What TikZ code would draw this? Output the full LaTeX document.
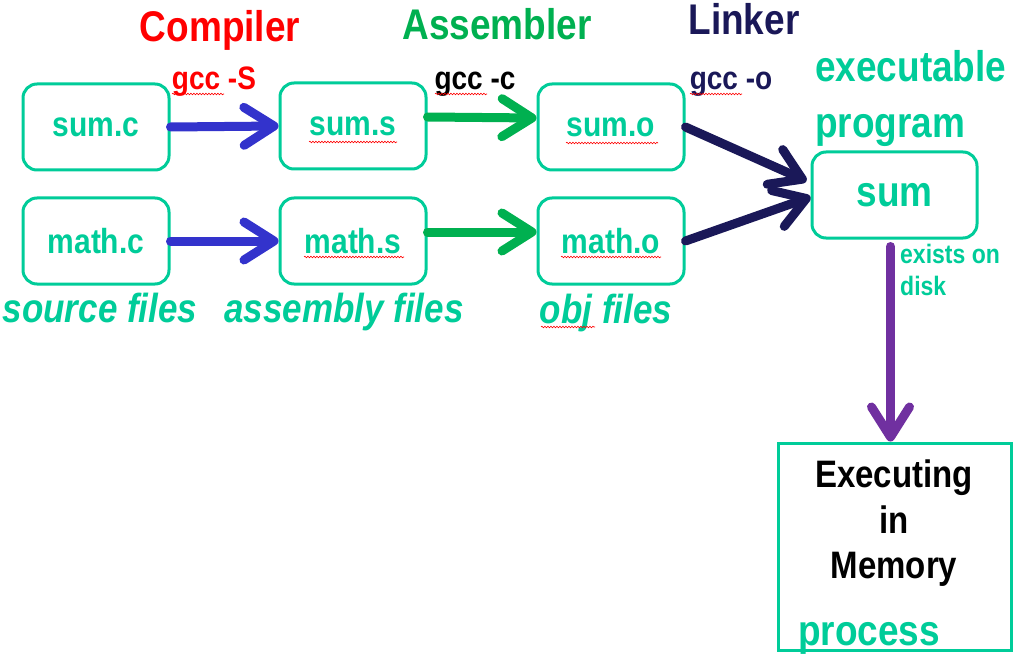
\documentclass[tikz,border=0pt]{standalone}
\usepackage{fontspec}
\usepackage{graphicx}
\setmainfont{Liberation Sans}
\usetikzlibrary{arrows.meta,decorations.pathmorphing}
\definecolor{tealc}{HTML}{00CC99}
\definecolor{greenc}{HTML}{00B050}
\definecolor{bluec}{HTML}{3333CC}
\definecolor{navyc}{HTML}{1A1858}
\definecolor{purplec}{HTML}{7030A0}
\definecolor{redc}{HTML}{FF0000}
\newcommand{\fs}[1]{\fontsize{#1}{#1}\selectfont}
\newcommand{\tall}[1]{\scalebox{1}[1.16]{#1}}
\begin{document}
\begin{tikzpicture}[x=1pt,y=-1pt,
  filebox/.style={draw=tealc, line width=3pt, rounded corners=14pt, minimum width=146pt, minimum height=86pt, text=tealc, font=\bfseries\fs{30}, inner sep=0pt},
  arr/.style={line width=9pt, line cap=round, -{Straight Barb[length=30pt 0 0, width=38pt 0 0, round]}},
  title/.style={font=\bfseries\fs{37}, anchor=base, inner sep=0pt},
  cmd/.style={font=\bfseries\fs{28}, anchor=base, inner sep=0pt},
  lbl/.style={font=\bfseries\itshape\fs{35}, text=tealc, anchor=base, inner sep=0pt},
  squig/.style={draw=redc, line width=0.6pt, decorate, decoration={snake, amplitude=0.8pt, segment length=3pt}}
]
\useasboundingbox (0,0) rectangle (1018,658);

% boxes
\node[filebox] (sc) at (96,127) {\tall{sum.c}};
\node[filebox] (mc) at (96,241) {\tall{math.c}};
\node[filebox] (ss) at (353,126) {\tall{sum.s}};
\node[filebox] (ms) at (353,241) {\tall{math.s}};
\node[filebox] (so) at (611,127) {\tall{sum.o}};
\node[filebox] (mo) at (611,241) {\tall{math.o}};
\node[filebox, minimum width=165pt, font=\bfseries\fs{37}] (sum) at (894.5,195) {\tall{sum}};
\node[draw=tealc, line width=3pt, minimum width=233pt, minimum height=207pt, inner sep=0pt] (ex) at (894.5,546.5) {};

% titles
\node[title, text=redc] (comp) at (220,42) {\tall{Compiler}};
\node[title, text=greenc] (asm) at (497,40) {\tall{Assembler}};
\node[title, text=navyc] (lnk) at (744,35) {\tall{Linker}};
\node[cmd, text=redc] (c1) at (214,90) {\tall{gcc -S}};
\node[cmd, text=black] (c2) at (475,90) {\tall{gcc -c}};
\node[cmd, text=navyc] (c3) at (731,90) {\tall{gcc -o}};
\node[title, text=tealc, anchor=base west] (exe1) at (815,82) {\tall{executable}};
\node[title, text=tealc, anchor=base west] (exe2) at (815,138) {\tall{program}};

% labels
\node[lbl] (l1) at (100,322) {\tall{source files}};
\node[lbl] (l2) at (344,322) {\tall{assembly files}};
\node[lbl] (l3) at (606,323) {\tall{obj files}};
\node[font=\bfseries\fs{23}, text=tealc, anchor=base west, inner sep=0pt] (d1) at (900,263) {\tall{exists on}};
\node[font=\bfseries\fs{23}, text=tealc, anchor=base west, inner sep=0pt] (d2) at (900,295) {\tall{disk}};

\node[font=\bfseries\fs{33}, anchor=base, inner sep=0pt] (t1) at (894,487) {\tall{Executing}};
\node[font=\bfseries\fs{33}, anchor=base, inner sep=0pt] (t2) at (894,533) {\tall{in}};
\node[font=\bfseries\fs{33}, anchor=base, inner sep=0pt] (t3) at (894,578) {\tall{Memory}};
\node[title, text=tealc] (proc) at (869,645) {\tall{process}};

% arrows
\draw[arr, bluec] (sc.east) -- (ss.west);
\draw[arr, bluec] (mc.east) -- (ms.west);
\draw[arr, greenc] ([yshift=9pt]ss.east) -- ([yshift=9pt]so.west);
\draw[arr, greenc] ([yshift=9pt]ms.east) -- ([yshift=9pt]mo.west);
\draw[arr, navyc] (so.east) -- ([shift={(-4pt,14pt)}]sum.west);
\draw[arr, navyc] (mo.east) -- ([yshift=-2pt]sum.west);
\draw[arr, purplec] ([shift={(-4pt,-7pt)}]sum.south) -- ([xshift=-4pt]ex.north);

% spell-check squiggles
\draw[squig] (172,94) -- (224,94);
\draw[squig] (435,94) -- (487,94);
\draw[squig] (690,94) -- (742,94);
\draw[squig] (309,142) -- (397,142);
\draw[squig] (304,257) -- (404,257);
\draw[squig] (566,143) -- (658,143);
\draw[squig] (561,257) -- (661,257);
\draw[squig] (541,327) -- (595,327);
\end{tikzpicture}
\end{document}
